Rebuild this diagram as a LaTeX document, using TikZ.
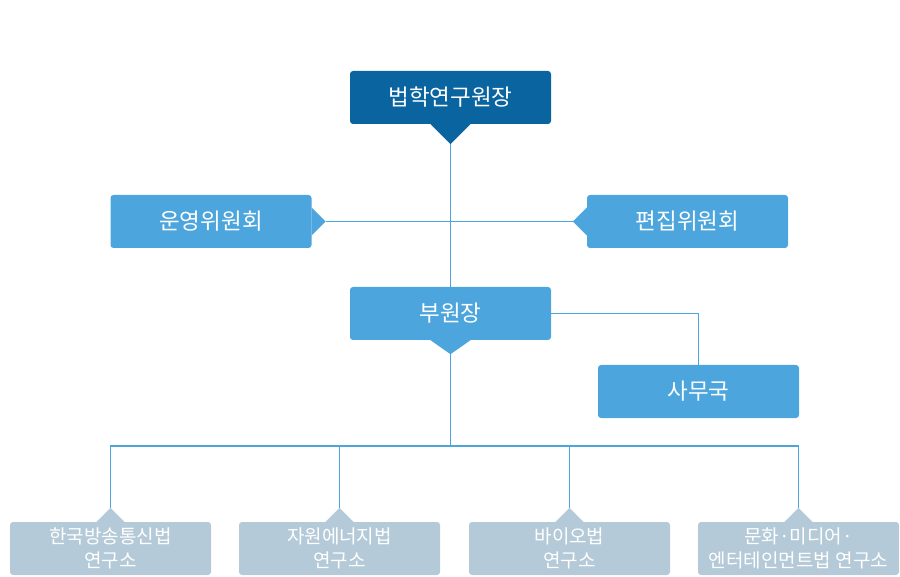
\documentclass[tikz,border=0pt]{standalone}
\usepackage{fontspec}
\setmainfont{Noto Sans CJK KR}
\usetikzlibrary{calc}
\definecolor{darkblue}{HTML}{0A64A0}
\definecolor{midblue}{HTML}{4CA6DD}
\definecolor{greyblue}{HTML}{B5CAD8}
\begin{document}
\begin{tikzpicture}[x=1pt,y=-1pt,
  box/.style={rectangle, rounded corners=3pt, minimum width=201pt, minimum height=53pt,
    text=white, inner sep=0pt, align=center, font=\fontsize{22.5}{26}\selectfont},
  topbox/.style={box, fill=darkblue},
  midbox/.style={box, fill=midblue},
  lowbox/.style={box, fill=greyblue, font=\fontsize{19}{24}\selectfont},
  conn/.style={draw=midblue, line width=1.1pt}]
\useasboundingbox (0,0) rectangle (900,577);
% boxes
\node[topbox] (head) at (450.5,97.5) {법학연구원장};
\node[midbox] (ops) at (211,221.5) {운영위원회};
\node[midbox] (edit) at (687.5,221.5) {편집위원회};
\node[midbox] (vice) at (450.5,313.5) {부원장};
\node[midbox] (office) at (698.5,391.5) {사무국};
\node[lowbox] (r1) at (110.5,548.5) {한국방송통신법\\연구소};
\node[lowbox] (r2) at (339.5,548.5) {자원에너지법\\연구소};
\node[lowbox] (r3) at (569.5,548.5) {바이오법\\연구소};
\node[lowbox] (r4) at (798.5,548.5) {문화·미디어·\\엔터테인먼트법 연구소};
% pointers
\fill[darkblue] ($(head.south)+(-20,0)$) -- ($(head.south)+(0,20)$) coordinate (headtip) -- ($(head.south)+(20,0)$) -- cycle;
\fill[midblue] ($(vice.south)+(-20,0)$) -- ($(vice.south)+(0,14)$) coordinate (vicetip) -- ($(vice.south)+(20,0)$) -- cycle;
\fill[midblue] ($(ops.east)+(0,-14)$) -- ($(ops.east)+(14,0)$) coordinate (opstip) -- ($(ops.east)+(0,14)$) -- cycle;
\fill[midblue] ($(edit.west)+(0,-14)$) -- ($(edit.west)+(-14,0)$) coordinate (edittip) -- ($(edit.west)+(0,14)$) -- cycle;
\foreach \r in {r1,r2,r3,r4}{
  \fill[greyblue] ($(\r.north)+(-14,0)$) -- ($(\r.north)+(0,-14)$) coordinate (\r tip) -- ($(\r.north)+(14,0)$) -- cycle;
}
\coordinate (bus) at (450.5,446);
% connectors
\draw[conn] (headtip) -- (vice.north);
\draw[conn] (opstip) -- (edittip);
\draw[conn] (vice.east) -| (office.north);
\draw[conn] (vicetip) -- (bus);
\draw[conn] (r1tip) |- (bus);
\draw[conn] (r4tip) |- (bus);
\draw[conn] (r2tip) -- (r2tip|-bus);
\draw[conn] (r3tip) -- (r3tip|-bus);
\end{tikzpicture}
\end{document}
